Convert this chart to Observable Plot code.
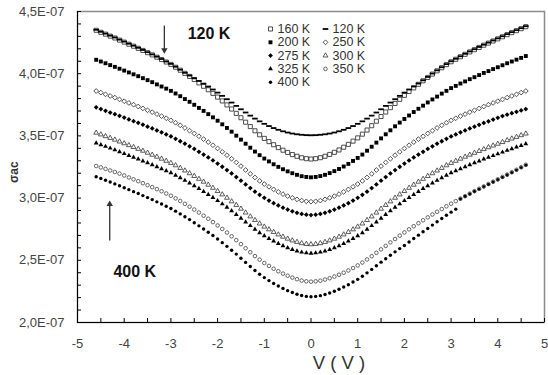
<!DOCTYPE html>
<html><head><meta charset="utf-8">
<script src="https://cdn.jsdelivr.net/npm/d3@7"></script>
<script src="https://cdn.jsdelivr.net/npm/@observablehq/plot@0.6"></script>
<style>body{margin:0;background:#fff} svg{display:block}</style>
</head><body><div id="chart"></div>
<script>
// Bias voltage (V)
const V = [-4.6,-4.5,-4.4,-4.3,-4.2,-4.1,-4,-3.9,-3.8,-3.7,-3.6,-3.5,-3.4,-3.3,-3.2,-3.1,-3,-2.9,-2.8,-2.7,-2.6,-2.5,-2.4,-2.3,-2.2,-2.1,-2,-1.9,-1.8,-1.7,-1.6,-1.5,-1.4,-1.3,-1.2,-1.1,-1,-0.9,-0.8,-0.7,-0.6,-0.5,-0.4,-0.3,-0.2,-0.1,0,0.1,0.2,0.3,0.4,0.5,0.6,0.7,0.8,0.9,1,1.1,1.2,1.3,1.4,1.5,1.6,1.7,1.8,1.9,2,2.1,2.2,2.3,2.4,2.5,2.6,2.7,2.8,2.9,3,3.1,3.2,3.3,3.4,3.5,3.6,3.7,3.8,3.9,4,4.1,4.2,4.3,4.4,4.5,4.6];

// sigma_ac values, in units of 1E-07
const s120 = [4.353,4.337,4.322,4.306,4.291,4.274,4.258,4.241,4.225,4.208,4.191,4.173,4.155,4.137,4.118,4.098,4.079,4.056,4.032,4.007,3.985,3.963,3.942,3.920,3.897,3.873,3.848,3.822,3.795,3.768,3.741,3.714,3.688,3.663,3.639,3.617,3.597,3.579,3.563,3.549,3.537,3.527,3.519,3.513,3.509,3.506,3.505,3.506,3.509,3.513,3.519,3.527,3.537,3.549,3.563,3.579,3.597,3.617,3.639,3.663,3.688,3.714,3.741,3.768,3.795,3.822,3.848,3.873,3.897,3.921,3.947,3.974,4.001,4.027,4.052,4.077,4.100,4.120,4.140,4.160,4.179,4.197,4.215,4.233,4.250,4.267,4.284,4.301,4.318,4.334,4.350,4.366,4.382];
const s160 = [4.349,4.333,4.318,4.302,4.287,4.270,4.254,4.237,4.221,4.204,4.187,4.169,4.151,4.133,4.114,4.094,4.075,4.052,4.028,4.003,3.978,3.953,3.926,3.899,3.871,3.842,3.812,3.781,3.749,3.716,3.681,3.646,3.610,3.575,3.541,3.509,3.480,3.454,3.429,3.406,3.385,3.367,3.350,3.336,3.324,3.317,3.314,3.317,3.325,3.336,3.351,3.368,3.387,3.409,3.432,3.458,3.484,3.514,3.547,3.582,3.618,3.656,3.692,3.727,3.761,3.794,3.826,3.857,3.886,3.915,3.943,3.970,3.997,4.023,4.048,4.073,4.096,4.116,4.136,4.156,4.175,4.193,4.211,4.229,4.246,4.263,4.280,4.297,4.314,4.330,4.346,4.362,4.378];
const s200 = [4.112,4.098,4.084,4.069,4.055,4.040,4.025,4.010,3.995,3.980,3.964,3.948,3.932,3.914,3.897,3.880,3.862,3.841,3.819,3.796,3.774,3.750,3.725,3.701,3.675,3.649,3.622,3.593,3.564,3.534,3.502,3.470,3.437,3.405,3.374,3.345,3.318,3.295,3.272,3.251,3.232,3.215,3.200,3.187,3.176,3.170,3.167,3.170,3.177,3.187,3.201,3.217,3.234,3.254,3.275,3.299,3.323,3.350,3.381,3.413,3.446,3.480,3.513,3.545,3.577,3.607,3.636,3.664,3.692,3.718,3.743,3.769,3.793,3.816,3.840,3.862,3.884,3.902,3.921,3.938,3.956,3.972,3.989,4.006,4.021,4.037,4.052,4.068,4.084,4.098,4.113,4.127,4.142];
const s250 = [3.861,3.848,3.834,3.821,3.808,3.793,3.779,3.765,3.751,3.736,3.721,3.706,3.691,3.675,3.659,3.642,3.625,3.606,3.585,3.564,3.542,3.520,3.497,3.474,3.450,3.425,3.399,3.372,3.345,3.316,3.287,3.257,3.226,3.195,3.166,3.138,3.113,3.091,3.070,3.050,3.032,3.016,3.002,2.990,2.980,2.974,2.971,2.974,2.980,2.990,3.002,3.016,3.032,3.050,3.070,3.091,3.113,3.138,3.166,3.195,3.226,3.257,3.287,3.316,3.345,3.372,3.399,3.425,3.450,3.474,3.497,3.520,3.542,3.564,3.585,3.606,3.625,3.642,3.659,3.675,3.691,3.706,3.721,3.736,3.751,3.765,3.779,3.793,3.808,3.821,3.834,3.848,3.861];
const s275 = [3.730,3.716,3.702,3.688,3.675,3.661,3.647,3.632,3.618,3.605,3.590,3.574,3.560,3.544,3.529,3.512,3.496,3.477,3.457,3.437,3.416,3.395,3.372,3.350,3.327,3.303,3.278,3.252,3.225,3.198,3.169,3.140,3.110,3.081,3.052,3.026,3.002,2.980,2.959,2.941,2.923,2.908,2.894,2.882,2.873,2.867,2.864,2.867,2.873,2.882,2.894,2.908,2.923,2.941,2.959,2.980,3.002,3.026,3.052,3.081,3.110,3.140,3.169,3.198,3.225,3.252,3.278,3.303,3.327,3.350,3.372,3.395,3.416,3.437,3.457,3.477,3.496,3.512,3.529,3.544,3.560,3.574,3.589,3.604,3.617,3.631,3.645,3.659,3.671,3.683,3.694,3.705,3.716];
const s300 = [3.525,3.511,3.497,3.483,3.469,3.454,3.440,3.425,3.410,3.395,3.380,3.364,3.348,3.332,3.316,3.299,3.282,3.263,3.242,3.221,3.199,3.177,3.154,3.131,3.107,3.082,3.056,3.029,3.002,2.973,2.944,2.914,2.883,2.852,2.823,2.795,2.770,2.748,2.727,2.707,2.689,2.673,2.659,2.647,2.637,2.631,2.628,2.631,2.637,2.647,2.659,2.673,2.689,2.707,2.727,2.748,2.770,2.795,2.823,2.852,2.883,2.914,2.944,2.973,3.002,3.029,3.056,3.082,3.107,3.131,3.154,3.177,3.199,3.221,3.242,3.263,3.282,3.299,3.316,3.332,3.348,3.363,3.378,3.393,3.408,3.422,3.436,3.450,3.465,3.478,3.491,3.505,3.518];
const s325 = [3.443,3.429,3.415,3.401,3.387,3.372,3.357,3.342,3.328,3.313,3.298,3.283,3.268,3.252,3.236,3.220,3.203,3.183,3.163,3.142,3.121,3.099,3.076,3.053,3.029,3.005,2.979,2.953,2.926,2.897,2.868,2.838,2.808,2.778,2.749,2.721,2.697,2.675,2.654,2.634,2.617,2.601,2.587,2.574,2.565,2.559,2.556,2.559,2.565,2.574,2.587,2.601,2.617,2.634,2.654,2.675,2.697,2.721,2.749,2.778,2.808,2.838,2.868,2.897,2.926,2.953,2.979,3.005,3.029,3.053,3.076,3.099,3.121,3.142,3.163,3.183,3.203,3.220,3.236,3.252,3.268,3.283,3.298,3.313,3.327,3.341,3.355,3.369,3.383,3.396,3.410,3.423,3.436];
const s350 = [3.258,3.247,3.235,3.222,3.210,3.197,3.182,3.166,3.151,3.136,3.120,3.104,3.088,3.072,3.055,3.037,3.019,2.998,2.977,2.954,2.931,2.908,2.884,2.859,2.834,2.807,2.780,2.752,2.723,2.693,2.662,2.630,2.597,2.565,2.534,2.505,2.478,2.455,2.432,2.412,2.393,2.376,2.361,2.348,2.337,2.331,2.328,2.331,2.336,2.345,2.356,2.369,2.384,2.400,2.418,2.438,2.459,2.482,2.507,2.533,2.560,2.588,2.616,2.644,2.671,2.698,2.724,2.749,2.774,2.798,2.822,2.845,2.868,2.890,2.912,2.934,2.955,2.976,2.996,3.016,3.036,3.056,3.075,3.094,3.113,3.132,3.151,3.170,3.189,3.208,3.228,3.248,3.268];
const s400 = [3.172,3.158,3.143,3.129,3.114,3.099,3.083,3.068,3.052,3.037,3.020,3.004,2.988,2.970,2.953,2.935,2.916,2.895,2.873,2.850,2.827,2.802,2.777,2.752,2.726,2.699,2.671,2.642,2.612,2.581,2.550,2.517,2.483,2.450,2.418,2.388,2.361,2.337,2.314,2.293,2.274,2.256,2.241,2.227,2.217,2.210,2.207,2.210,2.216,2.225,2.237,2.251,2.267,2.285,2.304,2.325,2.347,2.372,2.399,2.427,2.456,2.485,2.513,2.541,2.568,2.594,2.619,2.647,2.675,2.702,2.729,2.756,2.783,2.810,2.836,2.862,2.887,2.911,2.993,3.013,3.033,3.053,3.072,3.091,3.110,3.129,3.148,3.167,3.186,3.205,3.225,3.245,3.265];

const seriesNames = ["400 K","350 K","325 K","300 K","275 K","250 K","200 K","160 K","120 K"];
const seriesValues = [s400, s350, s325, s300, s275, s250, s200, s160, s120];
const legendOrder = ["160 K","120 K","200 K","250 K","275 K","300 K","325 K","350 K","400 K"];

const xTicks = [-5,-4,-3,-2,-1,0,1,2,3,4,5];
const xMinor = [-5,-4.5,-4,-3.5,-3,-2.5,-2,-1.5,-1,-0.5,0,0.5,1,1.5,2,2.5,3,3.5,4,4.5,5];
const yTicks = [2.0,2.5,3.0,3.5,4.0,4.5];
const yMinor = [2.0,2.1,2.2,2.3,2.4,2.5,2.6,2.7,2.8,2.9,3.0,3.1,3.2,3.3,3.4,3.5,3.6,3.7,3.8,3.9,4.0,4.1,4.2,4.3,4.4,4.5];

const annotLabels = [
  {text: "120 K", x: -2.64, y: 4.319},
  {text: "400 K", x: -4.23, y: 2.41}
];
const annotArrows = [
  {x: -3.14, y1: 4.387, y2: 4.19, rot: 180},
  {x: -4.31, y1: 2.659, y2: 2.951, rot: 0}
];

// styles
const dash = {draw(ctx, size) { const r = Math.sqrt(size / Math.PI); ctx.rect(-1.4 * r, -0.45 * r, 2.8 * r, 0.9 * r); }};
const styles = {
  "160 K": {symbol: "square", r: 2.3, fill: "none", stroke: "#222", rotate: 0},
  "120 K": {symbol: dash, r: 2.0, fill: "#000", stroke: "none", rotate: 0},
  "200 K": {symbol: "square", r: 2.2, fill: "#000", stroke: "none", rotate: 0},
  "250 K": {symbol: "square", r: 1.9, fill: "none", stroke: "#333", rotate: 45},
  "275 K": {symbol: "square", r: 1.9, fill: "#000", stroke: "none", rotate: 45},
  "300 K": {symbol: "triangle", r: 1.8, fill: "none", stroke: "#333", rotate: 0},
  "325 K": {symbol: "triangle", r: 1.8, fill: "#000", stroke: "none", rotate: 0},
  "350 K": {symbol: "circle", r: 1.8, fill: "none", stroke: "#444", rotate: 0},
  "400 K": {symbol: "circle", r: 1.7, fill: "#000", stroke: "none", rotate: 0}
};

const marks = [
  Plot.frame({stroke: "#8a8a8a", strokeWidth: 1.5}),
  Plot.ruleX([-5], {stroke: "#000", strokeWidth: 1}),
  Plot.ruleY([2.0], {stroke: "#000", strokeWidth: 1}),
  Plot.axisX({ticks: xMinor, tickSize: 4, dy: -4, tickFormat: () => "", color: "#000", label: null}),
  Plot.axisX({ticks: xTicks, tickSize: 0, tickPadding: 16, tickFormat: d => String(d), fontSize: 13, color: "#444", label: null}),
  Plot.axisY({ticks: yMinor, tickSize: 4, dx: 4, tickFormat: () => "", color: "#000", label: null}),
  Plot.axisY({ticks: yTicks, tickSize: 0, tickPadding: 13, tickFormat: d => d.toFixed(1).replace(".", ",") + "E-07", fontSize: 13, color: "#444", label: null})
];

seriesNames.forEach((name, k) => {
  const st = styles[name];
  const rows = seriesValues[k].map((v, i) => ({V: V[i], v}));
  marks.push(Plot.dot(rows, {x: "V", y: "v", symbol: st.symbol, r: st.r, fill: st.fill, stroke: st.stroke, strokeWidth: 0.8, rotate: st.rotate}));
});

// legend
legendOrder.forEach((name, i) => {
  const st = styles[name];
  const col = i % 2, row = Math.floor(i / 2);
  const mx = col ? 248 : 193, ty = 17.5 + 13.3 * row;
  marks.push(Plot.dot([name], {frameAnchor: "top-left", dx: mx, dy: ty, symbol: st.symbol, r: st.r, fill: st.fill, stroke: st.stroke, strokeWidth: 0.8, rotate: st.rotate}));
  marks.push(Plot.text([name], {frameAnchor: "top-left", dx: mx + 7, dy: ty, text: d => d, textAnchor: "start", lineAnchor: "middle", fontSize: 12.5, fill: "#333"}));
});

// annotations
marks.push(Plot.link(annotArrows, {x1: "x", x2: "x", y1: "y1", y2: "y2", stroke: "#333", strokeWidth: 1.3}));
marks.push(Plot.dot(annotArrows, {x: "x", y: "y2", symbol: "triangle", r: 2.4, fill: "#333", rotate: "rot"}));
marks.push(Plot.text(annotLabels, {x: "x", y: "y", text: "text", textAnchor: "start", lineAnchor: "middle", fontSize: 16, fontWeight: "bold", fill: "#111"}));

// axis titles
marks.push(Plot.text(["V ( V )"], {frameAnchor: "bottom", dx: 28, dy: 41, text: d => d, lineAnchor: "middle", fontSize: 18.5, fill: "#333"}));
marks.push(Plot.text(["σac"], {frameAnchor: "left", dx: -63, dy: 16, text: d => d, rotate: -90, lineAnchor: "middle", fontSize: 12, fontWeight: "bold", fill: "#333"}));

const chart = Plot.plot({
  width: 548,
  height: 375,
  marginLeft: 77,
  marginRight: 4,
  marginTop: 11,
  marginBottom: 53,
  style: {fontFamily: "'Liberation Sans', Arial, sans-serif", background: "#fff"},
  x: {domain: [-5, 5], label: null},
  y: {domain: [2.0, 4.5], label: null},
  marks
});
document.getElementById("chart").append(chart);
</script>
</body></html>
